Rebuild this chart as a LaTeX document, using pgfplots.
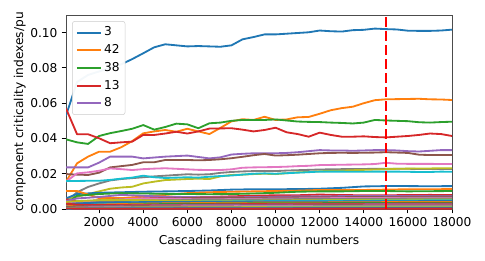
\documentclass[border=0pt]{standalone}
\usepackage{pgfplots}
\pgfplotsset{compat=1.18}
\usepackage{pgfplotstable}
\usepackage{fontspec}
\setmainfont{DejaVu Sans}
\definecolor{C0}{HTML}{1F77B4}
\definecolor{C1}{HTML}{FF7F0E}
\definecolor{C2}{HTML}{2CA02C}
\definecolor{C3}{HTML}{D62728}
\definecolor{C4}{HTML}{9467BD}
\definecolor{C5}{HTML}{8C564B}
\definecolor{C6}{HTML}{E377C2}
\definecolor{C7}{HTML}{7F7F7F}
\definecolor{C8}{HTML}{BCBD22}
\definecolor{C9}{HTML}{17BECF}

\pgfplotstableread{
x     a      b      c      d      e      f      g      h      i      j
500   0.0530 0.0155 0.0395 0.0570 0.0236 0.0198 0.0155 0.0040 0.0060 0.0159
1000  0.0720 0.0259 0.0378 0.0424 0.0236 0.0195 0.0202 0.0095 0.0070 0.0159
1500  0.0760 0.0297 0.0369 0.0424 0.0236 0.0193 0.0208 0.0125 0.0085 0.0160
2000  0.0780 0.0325 0.0414 0.0401 0.0263 0.0206 0.0217 0.0145 0.0100 0.0160
2500  0.0800 0.0325 0.0430 0.0373 0.0297 0.0236 0.0230 0.0162 0.0115 0.0165
3000  0.0820 0.0350 0.0442 0.0378 0.0297 0.0243 0.0226 0.0170 0.0122 0.0172
3500  0.0850 0.0385 0.0455 0.0382 0.0297 0.0250 0.0221 0.0175 0.0126 0.0178
4000  0.0883 0.0429 0.0476 0.0420 0.0287 0.0265 0.0226 0.0180 0.0145 0.0189
4500  0.0917 0.0440 0.0450 0.0420 0.0292 0.0265 0.0229 0.0185 0.0155 0.0180
5000  0.0934 0.0448 0.0465 0.0428 0.0297 0.0278 0.0231 0.0189 0.0164 0.0176
5500  0.0928 0.0438 0.0484 0.0438 0.0300 0.0278 0.0228 0.0193 0.0167 0.0178
6000  0.0922 0.0455 0.0480 0.0428 0.0303 0.0278 0.0225 0.0197 0.0170 0.0180
6500  0.0924 0.0440 0.0458 0.0440 0.0295 0.0276 0.0222 0.0195 0.0172 0.0178
7000  0.0922 0.0425 0.0486 0.0456 0.0287 0.0278 0.0221 0.0197 0.0170 0.0183
7500  0.0920 0.0460 0.0490 0.0457 0.0293 0.0282 0.0221 0.0205 0.0185 0.0187
8000  0.0928 0.0497 0.0500 0.0458 0.0309 0.0288 0.0225 0.0210 0.0193 0.0190
8500  0.0962 0.0509 0.0505 0.0450 0.0313 0.0296 0.0234 0.0213 0.0195 0.0195
9000  0.0975 0.0505 0.0505 0.0440 0.0316 0.0305 0.0236 0.0215 0.0198 0.0200
9500  0.0990 0.0523 0.0505 0.0448 0.0316 0.0312 0.0237 0.0216 0.0200 0.0202
10000 0.0990 0.0505 0.0508 0.0461 0.0316 0.0303 0.0238 0.0215 0.0198 0.0200
10500 0.0994 0.0508 0.0502 0.0435 0.0318 0.0305 0.0240 0.0218 0.0203 0.0203
11000 0.0998 0.0520 0.0496 0.0425 0.0322 0.0308 0.0243 0.0220 0.0208 0.0206
11500 0.1002 0.0522 0.0494 0.0410 0.0328 0.0312 0.0245 0.0222 0.0210 0.0209
12000 0.1012 0.0540 0.0493 0.0433 0.0334 0.0316 0.0249 0.0224 0.0214 0.0212
12500 0.1008 0.0560 0.0490 0.0420 0.0332 0.0318 0.0250 0.0225 0.0216 0.0212
13000 0.1006 0.0572 0.0488 0.0410 0.0332 0.0319 0.0251 0.0226 0.0218 0.0212
13500 0.1014 0.0580 0.0485 0.0410 0.0330 0.0318 0.0252 0.0227 0.0220 0.0211
14000 0.1016 0.0600 0.0490 0.0412 0.0332 0.0319 0.0253 0.0227 0.0222 0.0211
14500 0.1023 0.0617 0.0505 0.0408 0.0334 0.0320 0.0255 0.0228 0.0224 0.0212
15000 0.1020 0.0622 0.0502 0.0406 0.0334 0.0322 0.0262 0.0228 0.0226 0.0212
15500 0.1018 0.0623 0.0500 0.0410 0.0332 0.0320 0.0257 0.0228 0.0228 0.0212
16000 0.1011 0.0624 0.0498 0.0414 0.0328 0.0318 0.0256 0.0228 0.0229 0.0211
16500 0.1010 0.0625 0.0492 0.0420 0.0326 0.0308 0.0256 0.0227 0.0230 0.0210
17000 0.1010 0.0622 0.0490 0.0428 0.0330 0.0306 0.0256 0.0227 0.0230 0.0210
17500 0.1012 0.0621 0.0493 0.0425 0.0334 0.0306 0.0255 0.0227 0.0231 0.0212
18000 0.1017 0.0618 0.0495 0.0414 0.0334 0.0306 0.0255 0.0227 0.0231 0.0211
}\maintable

\pgfplotstableread{
x     l1     l2     l3     l4     l5     l6     l7     l8     l9     l10    l11    l12    l13    l14    l15    l16    l17    l18    l19    l20    l21    l22
500   0.0060 0.0102 0.0030 0.0055 0.0045 0.0035 0.0030 0.0025 0.0040 0.0020 0.0028 0.0015 0.0010 0.0030 0.0008 0.0012 0.0005 0.0006 0.0003 0.0002 0.0001 0.0003
1000  0.0085 0.0102 0.0075 0.0045 0.0060 0.0040 0.0038 0.0030 0.0045 0.0025 0.0032 0.0020 0.0015 0.0025 0.0012 0.0014 0.0008 0.0007 0.0005 0.0003 0.0002 0.0002
2000  0.0092 0.0062 0.0085 0.0040 0.0068 0.0050 0.0048 0.0040 0.0050 0.0030 0.0036 0.0025 0.0020 0.0022 0.0016 0.0015 0.0010 0.0009 0.0006 0.0004 0.0002 0.0002
3000  0.0095 0.0062 0.0090 0.0050 0.0080 0.0055 0.0055 0.0045 0.0052 0.0035 0.0038 0.0028 0.0024 0.0022 0.0018 0.0016 0.0012 0.0010 0.0007 0.0005 0.0003 0.0002
4000  0.0098 0.0070 0.0088 0.0060 0.0075 0.0058 0.0060 0.0048 0.0050 0.0038 0.0039 0.0030 0.0026 0.0023 0.0020 0.0017 0.0013 0.0011 0.0008 0.0005 0.0003 0.0002
5000  0.0100 0.0080 0.0086 0.0065 0.0070 0.0060 0.0058 0.0050 0.0048 0.0040 0.0040 0.0032 0.0028 0.0024 0.0021 0.0018 0.0014 0.0012 0.0009 0.0006 0.0003 0.0002
6000  0.0102 0.0090 0.0085 0.0066 0.0068 0.0062 0.0056 0.0052 0.0047 0.0041 0.0040 0.0033 0.0029 0.0025 0.0022 0.0019 0.0015 0.0012 0.0009 0.0006 0.0004 0.0002
7000  0.0105 0.0095 0.0084 0.0068 0.0066 0.0062 0.0055 0.0052 0.0046 0.0042 0.0041 0.0034 0.0030 0.0026 0.0023 0.0020 0.0016 0.0013 0.0010 0.0007 0.0004 0.0002
8000  0.0110 0.0098 0.0085 0.0072 0.0066 0.0064 0.0056 0.0053 0.0046 0.0043 0.0041 0.0035 0.0031 0.0027 0.0024 0.0020 0.0016 0.0013 0.0010 0.0007 0.0004 0.0002
9000  0.0112 0.0100 0.0088 0.0075 0.0068 0.0064 0.0058 0.0054 0.0047 0.0044 0.0042 0.0036 0.0032 0.0028 0.0024 0.0021 0.0017 0.0014 0.0011 0.0007 0.0004 0.0002
10000 0.0112 0.0102 0.0092 0.0078 0.0070 0.0065 0.0059 0.0055 0.0048 0.0045 0.0042 0.0036 0.0032 0.0028 0.0025 0.0021 0.0017 0.0014 0.0011 0.0008 0.0004 0.0002
11000 0.0113 0.0104 0.0098 0.0078 0.0072 0.0066 0.0060 0.0056 0.0049 0.0045 0.0043 0.0037 0.0033 0.0029 0.0025 0.0022 0.0018 0.0014 0.0011 0.0008 0.0005 0.0002
12000 0.0115 0.0108 0.0100 0.0082 0.0072 0.0066 0.0061 0.0056 0.0050 0.0046 0.0043 0.0037 0.0033 0.0029 0.0026 0.0022 0.0018 0.0015 0.0011 0.0008 0.0005 0.0002
13000 0.0120 0.0108 0.0100 0.0079 0.0073 0.0067 0.0062 0.0057 0.0051 0.0047 0.0043 0.0038 0.0034 0.0030 0.0026 0.0022 0.0018 0.0015 0.0012 0.0008 0.0005 0.0002
14000 0.0128 0.0108 0.0102 0.0078 0.0074 0.0068 0.0062 0.0058 0.0052 0.0047 0.0044 0.0038 0.0034 0.0030 0.0026 0.0023 0.0019 0.0015 0.0012 0.0008 0.0005 0.0002
15000 0.0130 0.0110 0.0102 0.0078 0.0074 0.0068 0.0063 0.0058 0.0052 0.0048 0.0044 0.0039 0.0034 0.0030 0.0027 0.0023 0.0019 0.0015 0.0012 0.0009 0.0005 0.0002
16000 0.0130 0.0112 0.0100 0.0079 0.0073 0.0069 0.0063 0.0059 0.0053 0.0048 0.0044 0.0039 0.0035 0.0031 0.0027 0.0023 0.0019 0.0016 0.0012 0.0009 0.0005 0.0002
17000 0.0129 0.0112 0.0101 0.0080 0.0073 0.0070 0.0064 0.0059 0.0053 0.0049 0.0045 0.0039 0.0035 0.0031 0.0027 0.0023 0.0019 0.0016 0.0012 0.0009 0.0005 0.0002
18000 0.0130 0.0113 0.0102 0.0079 0.0074 0.0070 0.0064 0.0060 0.0054 0.0049 0.0045 0.0040 0.0035 0.0031 0.0027 0.0024 0.0020 0.0016 0.0013 0.0009 0.0005 0.0002
}\lowtable

\begin{document}
\begin{tikzpicture}
\useasboundingbox (0,0) rectangle (397.5pt,213.9pt);
\begin{axis}[
  at={(54.1pt,42.6pt)}, anchor=south west,
  scale only axis, width=316.4pt, height=159pt,
  xmin=500, xmax=18000, ymin=0, ymax=0.11,
  xtick={2000,4000,...,18000},
  ytick={0,0.02,0.04,0.06,0.08,0.10},
  scaled y ticks=false, scaled x ticks=false,
  /pgf/number format/assume math mode=true,
  xticklabel style={/pgf/number format/.cd, fixed, precision=0, 1000 sep={}},
  yticklabel style={/pgf/number format/.cd, fixed, fixed zerofill, precision=2},
  tick align=outside, xtick pos=lower, ytick pos=left,
  major tick length=3.5pt,
  tick style={black, line width=0.8pt},
  axis line style={black!70, line width=0.8pt},
  xlabel={Cascading failure chain numbers},
  ylabel={component criticality indexes/pu},
  ylabel style={yshift=-3pt},
  every axis plot/.append style={line width=1.5pt, line join=round},
  legend cell align=left,
  legend image code/.code={\draw[#1] (0pt,0pt) -- (20pt,0pt);},
  legend style={at={(0,1)}, anchor=north west, xshift=5pt, yshift=-5pt,
    draw=black!20, fill=white, fill opacity=0.95, text opacity=1,
    rounded corners=2pt, row sep=2pt, inner sep=3pt,
    nodes={inner sep=1.5pt, text height=7.5pt, text depth=2pt}},
]
\addplot[C0] table[x=x,y=a]{\maintable}; \addlegendentry{3}
\addplot[C1] table[x=x,y=b]{\maintable}; \addlegendentry{42}
\addplot[C2] table[x=x,y=c]{\maintable}; \addlegendentry{38}
\addplot[C3] table[x=x,y=d]{\maintable}; \addlegendentry{13}
\addplot[C4] table[x=x,y=e]{\maintable}; \addlegendentry{8}
\addplot[C5, forget plot] table[x=x,y=f]{\maintable};
\addplot[C6, forget plot] table[x=x,y=g]{\maintable};
\addplot[C7, forget plot] table[x=x,y=h]{\maintable};
\addplot[C8, forget plot] table[x=x,y=i]{\maintable};
\addplot[C9, forget plot] table[x=x,y=j]{\maintable};
\addplot[C0, forget plot] table[x=x,y=l1]{\lowtable};
\addplot[C1, forget plot] table[x=x,y=l2]{\lowtable};
\addplot[C2, forget plot] table[x=x,y=l3]{\lowtable};
\addplot[C3, forget plot] table[x=x,y=l4]{\lowtable};
\addplot[C4, forget plot] table[x=x,y=l5]{\lowtable};
\addplot[C5, forget plot] table[x=x,y=l6]{\lowtable};
\addplot[C6, forget plot] table[x=x,y=l7]{\lowtable};
\addplot[C7, forget plot] table[x=x,y=l8]{\lowtable};
\addplot[C8, forget plot] table[x=x,y=l9]{\lowtable};
\addplot[C9, forget plot] table[x=x,y=l10]{\lowtable};
\addplot[C0, forget plot] table[x=x,y=l11]{\lowtable};
\addplot[C1, forget plot] table[x=x,y=l12]{\lowtable};
\addplot[C2, forget plot] table[x=x,y=l13]{\lowtable};
\addplot[C3, forget plot] table[x=x,y=l14]{\lowtable};
\addplot[C4, forget plot] table[x=x,y=l15]{\lowtable};
\addplot[C5, forget plot] table[x=x,y=l16]{\lowtable};
\addplot[C6, forget plot] table[x=x,y=l17]{\lowtable};
\addplot[C7, forget plot] table[x=x,y=l18]{\lowtable};
\addplot[C8, forget plot] table[x=x,y=l19]{\lowtable};
\addplot[C9, forget plot] table[x=x,y=l20]{\lowtable};
\addplot[C0, forget plot] table[x=x,y=l21]{\lowtable};
\addplot[C3, forget plot] table[x=x,y=l22]{\lowtable};
\addplot[red, line width=2.2pt, dash pattern=on 8pt off 3.5pt, forget plot] coordinates {(15000,0) (15000,0.11)};
\end{axis}
\end{tikzpicture}
\end{document}
